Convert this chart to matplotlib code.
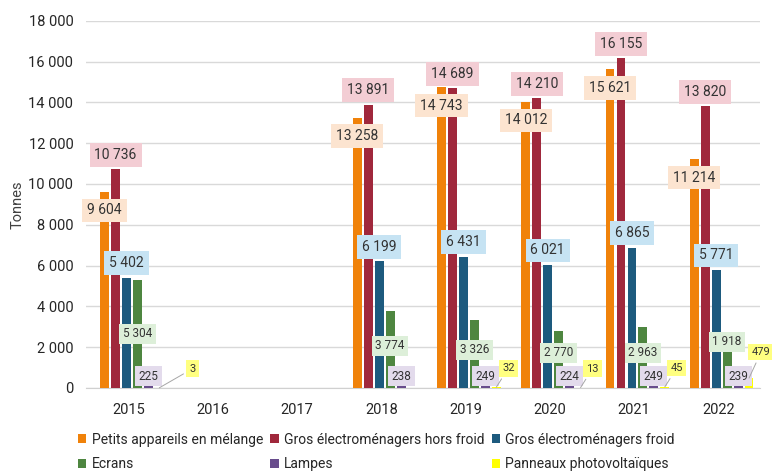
import numpy as np
import matplotlib
matplotlib.use("Agg")
from matplotlib import pyplot as plt
from matplotlib.patches import Patch

years = ["2015", "2016", "2017", "2018", "2019", "2020", "2021", "2022"]
nan = np.nan
petits = [9604, nan, nan, 13258, 14743, 14012, 15621, 11214]
gros_hors_froid = [10736, nan, nan, 13891, 14689, 14210, 16155, 13820]
gros_froid = [5402, nan, nan, 6199, 6431, 6021, 6865, 5771]
ecrans = [5304, nan, nan, 3774, 3326, 2770, 2963, 1918]
lampes = [225, nan, nan, 238, 249, 224, 249, 239]
panneaux = [3, nan, nan, nan, 32, 13, 45, 479]

series_names = ["Petits appareils en mélange", "Gros électroménagers hors froid",
                "Gros électroménagers froid", "Ecrans", "Lampes",
                "Panneaux photovoltaïques"]
colors = ["#F0820A", "#A0283C", "#1D5A7E", "#4E8640", "#684C8C", "#FFFF00"]
box_colors = ["#FCE4D0", "#F3CDD4", "#C6E3F3", "#DDEFD9", "#E3DBEC", "#FFFF80"]

plt.rcParams["font.family"] = ["Roboto", "DejaVu Sans"]
big, small, tiny, tick = 10, 8.5, 8, 10.5

def fmt(v):
    return "{:,}".format(int(v)).replace(",", " ")

fig = plt.figure(figsize=(7.72, 4.73), dpi=100)
ax = fig.add_axes([0.112, 0.18, 0.873, 0.776])

data = [petits, gros_hors_froid, gros_froid, ecrans, lampes, panneaux]
x = np.arange(len(years))
slot = 0.13
width = 0.105
shift = 0.04
for i, vals in enumerate(data):
    ax.bar(x + shift + (i - 2.5) * slot, vals, width, color=colors[i], zorder=3)

txt = "#333333"
green_label_y = [2650, nan, nan, 2060, 1864, 1717, 1717, 2256]
for j in range(len(years)):
    if np.isnan(petits[j]):
        continue
    xs = [x[j] + shift + (i - 2.5) * slot for i in range(6)]
    ax.text(xs[0], petits[j] - 900, fmt(petits[j]), ha="center", va="center",
            fontsize=big, color=txt, zorder=5,
            bbox=dict(boxstyle="square,pad=0.35", fc=box_colors[0], ec="none"))
    ax.text(xs[1], gros_hors_froid[j] + 700, fmt(gros_hors_froid[j]), ha="center",
            va="center", fontsize=big, color=txt, zorder=5,
            bbox=dict(boxstyle="square,pad=0.35", fc=box_colors[1], ec="none"))
    ax.text(xs[2], gros_froid[j] + 720, fmt(gros_froid[j]), ha="center",
            va="center", fontsize=big, color=txt, zorder=5,
            bbox=dict(boxstyle="square,pad=0.35", fc=box_colors[2], ec="none"))
    ax.text(xs[3], green_label_y[j], fmt(ecrans[j]), ha="center", va="center",
            fontsize=small, color=txt, zorder=5,
            bbox=dict(boxstyle="square,pad=0.3", fc=box_colors[3], ec="none"))
    ax.text(xs[4], 560, fmt(lampes[j]), ha="center", va="center",
            fontsize=small, color=txt, zorder=5,
            bbox=dict(boxstyle="square,pad=0.3", fc=box_colors[4], ec="none"))
    if not np.isnan(panneaux[j]):
        dx = 33 if j == 0 else 12
        dy = 26 if panneaux[j] > 100 else 19
        ax.annotate(fmt(panneaux[j]), xy=(xs[5], panneaux[j]),
                    xytext=(dx, dy), textcoords="offset pixels",
                    ha="center", va="center", fontsize=tiny, color=txt, zorder=5,
                    bbox=dict(boxstyle="square,pad=0.3", fc=box_colors[5], ec="none"),
                    arrowprops=dict(arrowstyle="-", color="#A6A6A6", lw=0.7,
                                    shrinkA=2, shrinkB=0))

ax.set_xlim(-0.5, len(years) - 0.5)
ax.set_ylim(0, 18000)
ax.set_yticks(np.arange(0, 18001, 2000))
ax.set_yticklabels([fmt(v) for v in np.arange(0, 18001, 2000)])
ax.set_xticks(x)
ax.set_xticklabels(years)
ax.tick_params(axis="both", length=0, labelsize=tick, colors="#262626")
ax.tick_params(axis="y", pad=9.5)
ax.tick_params(axis="x", pad=11)
ax.grid(axis="y", color="#D9D9D9", lw=1, zorder=0)
for s in ["top", "right", "left"]:
    ax.spines[s].set_visible(False)
ax.spines["bottom"].set_color("#D0D0D0")
ax.set_ylabel("Tonnes", fontsize=tick, color="#404040", labelpad=3)

# matplotlib fills legend columns first, so reorder to read row by row
order = [0, 3, 1, 4, 2, 5]
handles = [Patch(facecolor=colors[k], edgecolor="none") for k in order]
labels = [series_names[k] for k in order]
fig.legend(handles, labels, loc="upper left", bbox_to_anchor=(0.092, 0.1),
           ncol=3, frameon=False, fontsize=10, handlelength=0.6, handleheight=0.6,
           handletextpad=0.4, columnspacing=0.5, labelspacing=0.75, borderpad=0,
           labelcolor="#262626")

fig.savefig("out.png", dpi=100)
